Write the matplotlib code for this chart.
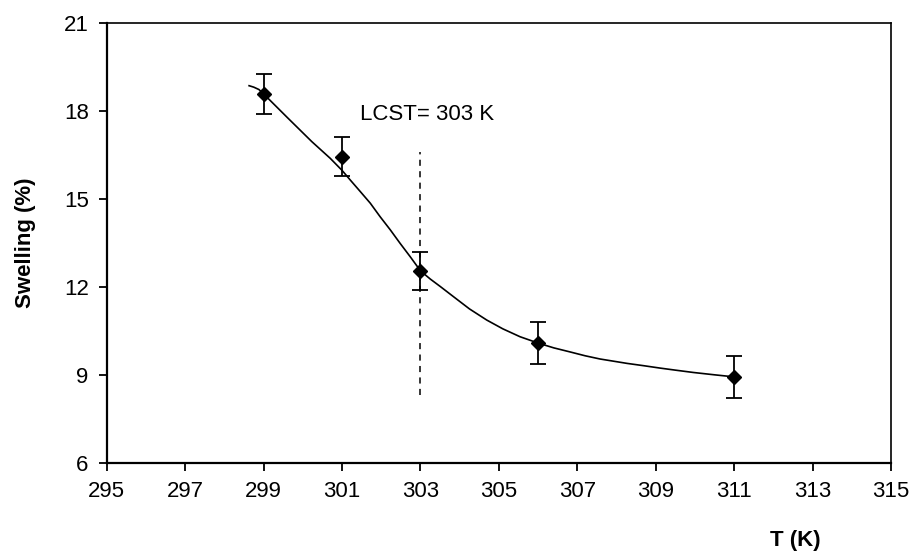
import matplotlib
matplotlib.use("Agg")
import matplotlib.pyplot as plt

plt.rcParams['font.family'] = ['Liberation Sans', 'DejaVu Sans']

# Measured swelling at each temperature
temperature = [299, 301, 303, 306, 311]
swelling = [18.59, 16.45, 12.54, 10.08, 8.93]
swelling_err = [0.67, 0.66, 0.66, 0.71, 0.71]

# Trend curve through the data
curve_T = [298.63, 298.75, 298.88, 299.0, 299.6, 300.23, 300.70, 301.0,
           301.21, 301.45, 301.72, 301.97, 302.23, 302.48, 302.74, 303.0,
           303.25, 303.51, 303.84, 304.25, 304.69, 305.1, 305.54, 306.01,
           306.4, 306.82, 307.2, 307.58, 308.27, 308.7, 309.11, 309.5,
           309.96, 310.5, 311.0]
curve_S = [18.87, 18.82, 18.74, 18.59, 17.79, 16.96, 16.39, 15.98,
           15.65, 15.28, 14.86, 14.40, 13.95, 13.49, 13.03, 12.55,
           12.27, 12.01, 11.67, 11.25, 10.87, 10.57, 10.30, 10.08,
           9.92, 9.78, 9.65, 9.54, 9.39, 9.31, 9.23, 9.16,
           9.08, 9.00, 8.93]

# LCST marker
lcst = 303
lcst_span = [8.31, 16.62]

x_ticks = list(range(295, 316, 2))
y_ticks = [6, 9, 12, 15, 18, 21]

fig = plt.figure(figsize=(9.17, 5.55), dpi=100)
ax = fig.add_axes([0.1164, 0.1663, 0.8553, 0.7917])

ax.plot(curve_T, curve_S, color='black', lw=1.2, zorder=2,
        solid_joinstyle='round')
ax.errorbar(temperature, swelling, yerr=swelling_err, fmt='D', color='black',
            ms=7.5, ecolor='black', elinewidth=1.3, capsize=5.5, capthick=1.3,
            zorder=3)
ax.plot([lcst, lcst], lcst_span, color='black', lw=1.1, ls=(0, (4, 3.5)), zorder=1)
ax.text(301.46, 17.87, 'LCST= 303 K', fontsize=16, va='center', ha='left')

ax.set_xlim(295, 315)
ax.set_ylim(6, 21)
ax.set_xticks(x_ticks)
ax.set_yticks(y_ticks)
ax.tick_params(axis='both', direction='out', length=6, width=1.3,
               labelsize=16, pad=7, top=False, right=False)
for side in ['left', 'bottom']:
    ax.spines[side].set_linewidth(1.6)
for side in ['top', 'right']:
    ax.spines[side].set_linewidth(1.2)

ax.set_ylabel('Swelling (%)', fontsize=16, fontweight='bold', labelpad=20)
ax.text(0.878, -0.176, 'T (K)', transform=ax.transAxes, fontsize=16,
        fontweight='bold', ha='center', va='center')

fig.savefig('out.png', dpi=100)
